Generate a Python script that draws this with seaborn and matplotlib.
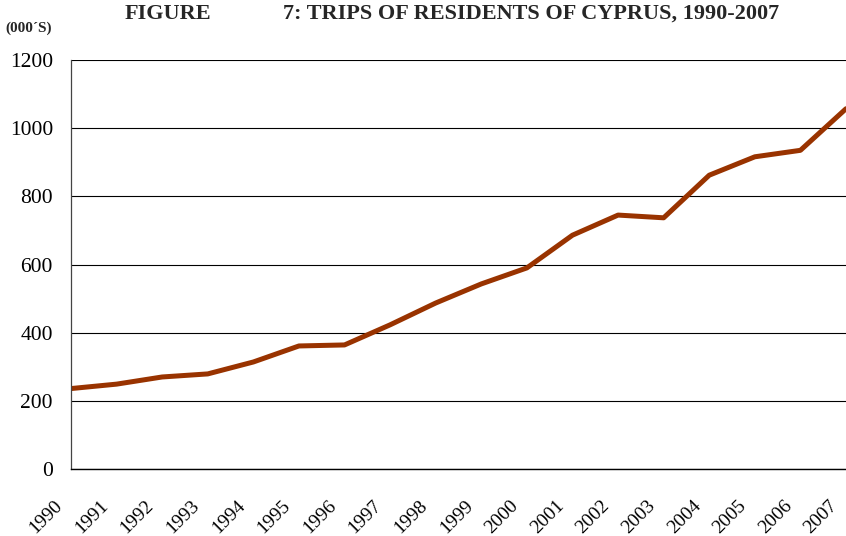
import matplotlib
matplotlib.use("Agg")
import matplotlib.pyplot as plt
import matplotlib.transforms as mtransforms
import seaborn as sns
import pandas as pd

years = list(range(1990, 2008))
trips = [236, 249, 270, 279, 314, 361, 364, 423, 487, 543, 590, 686,
         745, 737, 862, 916, 935, 1057]
year_labels = [str(y) for y in years]
y_ticks = [0, 200, 400, 600, 800, 1000, 1200]

sns.set_theme(style="white")
plt.rcParams['font.family'] = ['Liberation Serif', 'DejaVu Serif']

df = pd.DataFrame({"year": years, "trips": trips})

fig = plt.figure(figsize=(8.46, 5.36), dpi=100)
ax = fig.add_axes([71/846, 1 - 469/536, 1 - 71/846, (469 - 60)/536])

sns.lineplot(data=df, x="year", y="trips", ax=ax, color="#993300", linewidth=3.6)

ax.set_xlim(1990, 2007)
ax.set_ylim(0, 1200)
ax.set_yticks(y_ticks)
ax.set_yticklabels([str(v) for v in y_ticks], fontsize=15.5, color="black")
ax.set_xticks(years)
ax.set_xlabel("")
ax.set_ylabel("")

ax.yaxis.grid(True, color="black", linewidth=0.8)
ax.set_axisbelow(True)
ax.tick_params(axis="x", direction="inout", length=10, width=0.9, color="#333333", pad=8)
ax.tick_params(axis="y", length=0, pad=13)

ax.set_xticklabels(year_labels, rotation=45, ha="right", va="top",
                   rotation_mode="anchor", fontsize=14, color="black")
offset = mtransforms.ScaledTranslation(-17/100, -10/100, fig.dpi_scale_trans)
for lbl in ax.xaxis.get_majorticklabels():
    lbl.set_transform(lbl.get_transform() + offset)

for s in ["top", "right"]:
    ax.spines[s].set_visible(False)
ax.spines["left"].set_color("#444444")
ax.spines["left"].set_linewidth(0.9)
ax.spines["bottom"].set_color("black")
ax.spines["bottom"].set_linewidth(1.0)

fig.text(125/846, 1 - 14/536, "FIGURE",
         fontsize=16, fontweight="bold", ha="left", va="center")
fig.text(283/846, 1 - 14/536, "7: TRIPS OF RESIDENTS OF CYPRUS, 1990-2007",
         fontsize=16, fontweight="bold", ha="left", va="center")
fig.text(5/846, 1 - 28/536, "(000\u00b4S)", fontsize=11, fontweight="bold",
         ha="left", va="center")

fig.savefig("out.png", dpi=100)
